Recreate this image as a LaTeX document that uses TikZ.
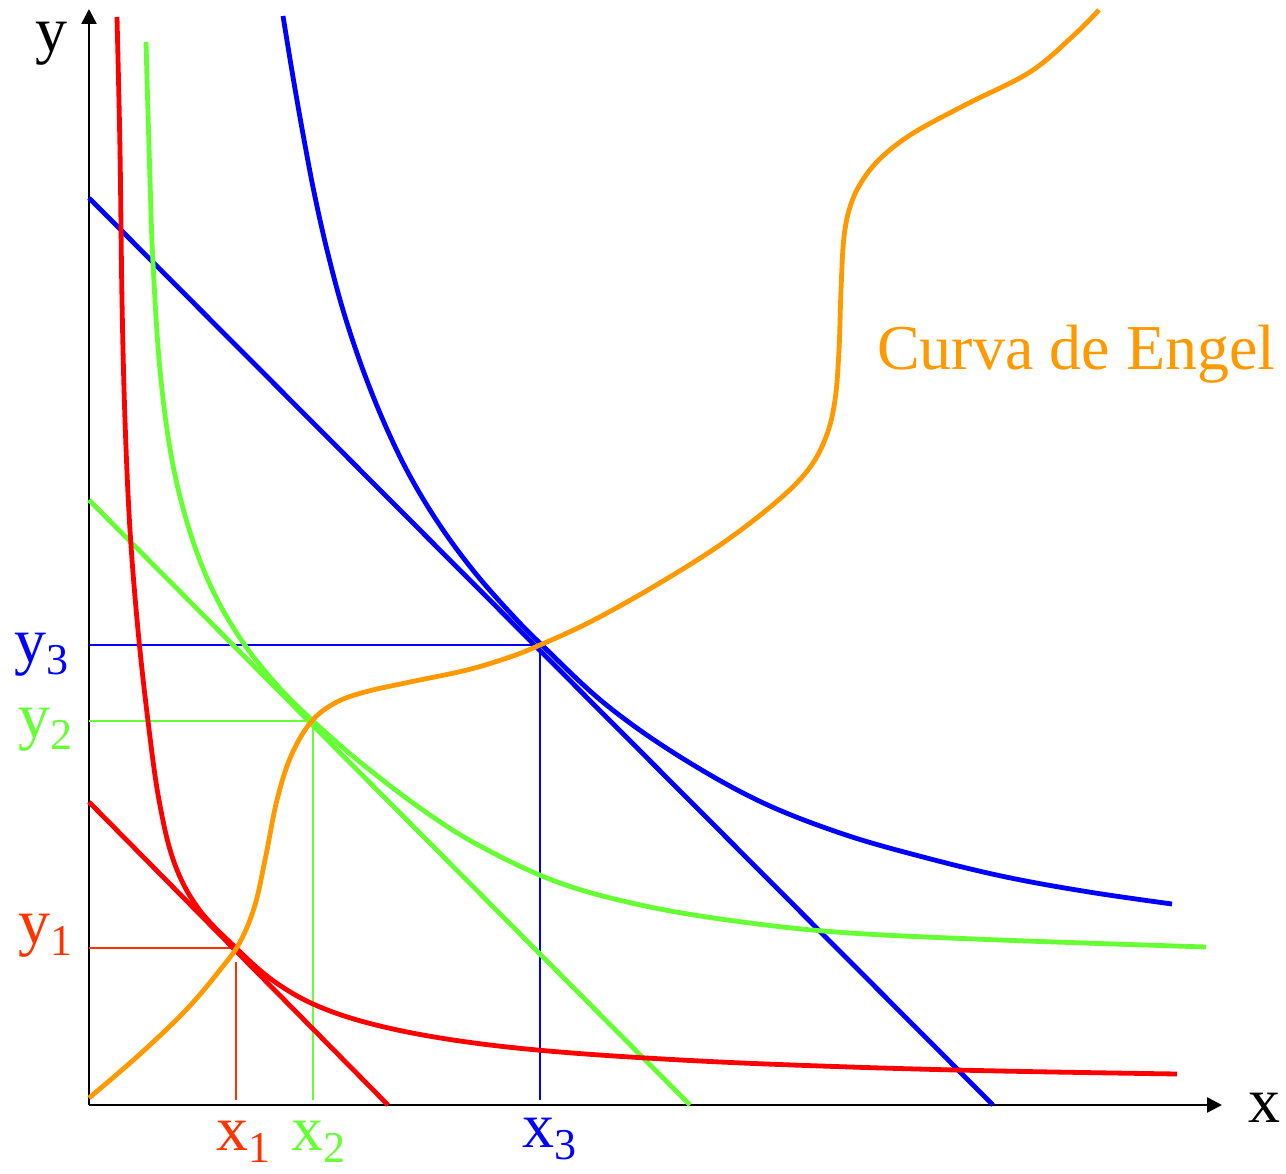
\documentclass[tikz,border=0pt]{standalone}
\usepackage{fontspec}
\setmainfont{Liberation Serif}
\newfontfamily\lbfont{Liberation Serif}
\usetikzlibrary{arrows.meta}
\definecolor{cred}{HTML}{FF0000}
\definecolor{clab}{HTML}{FF3300}
\definecolor{cgreen}{HTML}{66FF33}
\definecolor{cblue}{HTML}{0000FF}
\definecolor{corange}{HTML}{FF9900}
\newcommand\sublab[2]{#1\raisebox{-0.2em}{\fontsize{44}{44}\selectfont #2}}
\tikzset{
  axis/.style={line width=2.5pt, -{Triangle[length=15pt,width=15pt]}},
  guide/.style={line width=1.8pt},
  curve/.style={line width=4.8pt, line join=round},
  lbl/.style={anchor=base west, inner sep=0pt, font=\lbfont\fontsize{64}{70}\selectfont},
}
\begin{document}
\begin{tikzpicture}[x=1pt,y=-1pt]
\useasboundingbox (0,0) rectangle (1286,1174);
% key coordinates
\coordinate (O) at (89,1105);
\coordinate (Xend) at (1222,1105);
\coordinate (Yend) at (89,9);
\coordinate (E1) at (236,948);
\coordinate (E2) at (313,721);
\coordinate (E3) at (540,645);
\coordinate (Y1) at (89,948);
\coordinate (Y2) at (89,721);
\coordinate (Y3) at (89,645);
\coordinate (X1) at (236,1100);
\coordinate (X1t) at (236,962);
\coordinate (X2) at (313,1100);
\coordinate (X3) at (540,1100);
% axes
\draw[axis] (O) -- (Xend);
\draw[axis] (O) -- (Yend);
% guide lines
\draw[guide, clab] (Y1) -- (E1);
\draw[guide, clab] (X1t) -- (X1);
\draw[guide, cgreen] (Y2) -- (E2) -- (X2);
\draw[guide, cblue] (Y3) -- (E3) -- (X3);
% budget lines
\coordinate (R0) at (89,802);  \coordinate (R1) at (388,1105);
\coordinate (G0) at (89,500);  \coordinate (G1) at (690,1105);
\coordinate (B0) at (89,198);  \coordinate (B1) at (993,1105);
\draw[curve, cred] (R0) -- (R1);
\draw[curve, cgreen] (G0) -- (G1);
\draw[curve, cblue] (B0) -- (B1);
% indifference curves
\draw[curve, cred] plot[smooth, tension=0.6] coordinates {
 (117,17) (120,150) (122,300) (125,420) (130,530) (138,630) (148,721)
 (159,800) (174,862) (198,908) (236,948) (275,982) (320,1007) (380,1026)
 (460,1041) (560,1052) (700,1061) (850,1067) (1000,1071) (1177,1074)};
\draw[curve, cgreen] plot[smooth, tension=0.6] coordinates {
 (146,42) (150,180) (153,263) (160,370) (172,460) (190,532) (213,591)
 (242,641) (276,684) (313,721) (360,762) (420,808) (480,846) (560,883)
 (650,907) (750,923) (850,933) (1000,940) (1206,947)};
\draw[curve, cblue] plot[smooth, tension=0.6] coordinates {
 (283,16) (293,77) (303,134) (314,192) (327,250) (343,310) (363,370)
 (386,427) (411,478) (441,527) (476,574) (515,618) (545,648) (604,703)
 (674,753) (757,800) (840,833) (923,857) (1006,877) (1089,892) (1172,904)};
% Engel curve
\draw[curve, corange] plot[smooth, tension=0.6] coordinates {
 (89,1098) (139,1055) (186,1010) (220,970) (240,942) (255,905) (266,855)
 (277,800) (291,756) (311,722) (335,703) (365,692) (410,682) (467,670)
 (510,657) (540,645) (590,622) (653,587) (720,545) (775,503) (808,470)
 (826,437) (835,400) (839,350) (841,290) (844,237) (851,204)
 (864,178) (884,155) (915,132) (967,104) (1030,72) (1073,36) (1099,10)};
% labels
\node[lbl] (ly) at (35,52) {y};
\node[lbl] (lx) at (1248,1122) {x};
\node[lbl, cblue] (ly3) at (14,662) {\sublab{y}{3}};
\node[lbl, cgreen] (ly2) at (18,737) {\sublab{y}{2}};
\node[lbl, clab] (ly1) at (18,943) {\sublab{y}{1}};
\node[lbl, clab] (lx1) at (216,1150) {\sublab{x}{1}};
\node[lbl, cgreen] (lx2) at (291,1150) {\sublab{x}{2}};
\node[lbl, cblue] (lx3) at (522,1147) {\sublab{x}{3}};
\node[lbl, corange] (engel) at (877,370) {Curva de Engel};
\end{tikzpicture}
\end{document}
